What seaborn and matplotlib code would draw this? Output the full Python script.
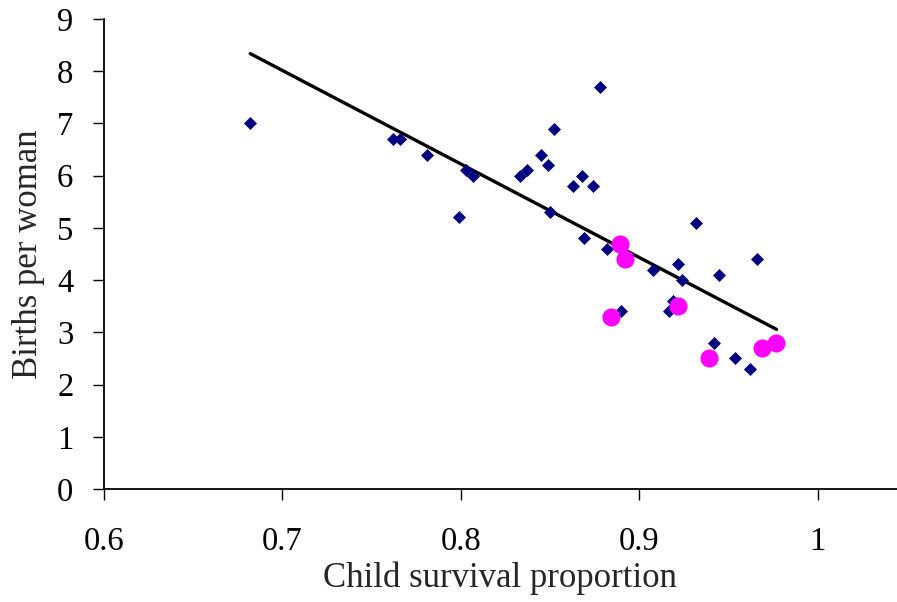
import numpy as np
import pandas as pd
import matplotlib
matplotlib.use("Agg")
import matplotlib.pyplot as plt
import seaborn as sns

# Countries (navy diamonds)
survival = [0.682, 0.762, 0.766, 0.781, 0.799, 0.803, 0.807, 0.833, 0.837, 0.845,
            0.849, 0.852, 0.850, 0.863, 0.868, 0.874, 0.878, 0.869, 0.882, 0.890,
            0.908, 0.922, 0.924, 0.932, 0.945, 0.966, 0.919, 0.917, 0.942, 0.954,
            0.962]
births = [7.0, 6.7, 6.7, 6.4, 5.2, 6.1, 6.0, 6.0, 6.1, 6.4,
          6.2, 6.9, 5.3, 5.8, 6.0, 5.8, 7.7, 4.8, 4.6, 3.4,
          4.2, 4.3, 4.0, 5.1, 4.1, 4.4, 3.6, 3.4, 2.8, 2.5,
          2.3]

# Highlighted countries (magenta circles)
hl_survival = [0.889, 0.892, 0.884, 0.922, 0.939, 0.969, 0.977]
hl_births = [4.7, 4.4, 3.3, 3.5, 2.5, 2.7, 2.8]

df = pd.DataFrame({"survival": survival, "births": births})
hl = pd.DataFrame({"survival": hl_survival, "births": hl_births})
both = pd.concat([df, hl], ignore_index=True)

sns.set_style("ticks")
plt.rcParams["font.family"] = ["Liberation Serif", "DejaVu Serif"]

fig = plt.figure(figsize=(8.97, 6.02), dpi=100)
ax = fig.add_axes([0.1159, 0.1877, 0.884, 0.7807])

sns.scatterplot(data=df, x="survival", y="births", marker="D", s=44,
                color="#000080", edgecolor="#000080", linewidth=0, ax=ax, zorder=3)
sns.scatterplot(data=hl, x="survival", y="births", marker="o", s=170,
                color="#FF00FF", edgecolor="#FF00FF", linewidth=0, ax=ax, zorder=4)
# linear trend over all points
sns.regplot(data=both, x="survival", y="births", scatter=False, ci=None,
            color="black", line_kws={"linewidth": 2.4, "zorder": 2}, ax=ax)

ax.set_xlim(0.6, 1.0445)
ax.set_ylim(0, 9)
ax.set_xticks([0.6, 0.7, 0.8, 0.9, 1.0])
ax.set_xticklabels(["0.6", "0.7", "0.8", "0.9", "1"])
ax.set_yticks(range(10))

for side in ["top", "right"]:
    ax.spines[side].set_visible(False)
for side in ["left", "bottom"]:
    ax.spines[side].set_linewidth(1.3)
    ax.spines[side].set_color("black")

ax.tick_params(axis="x", direction="out", length=8, width=1, pad=19,
               labelsize=23.5, colors="black")
ax.tick_params(axis="y", direction="out", length=8, width=1, pad=14,
               labelsize=23.5, colors="black")

ax.set_xlabel("Child survival proportion", fontsize=25, labelpad=3)
ax.set_ylabel("Births per woman", fontsize=25, labelpad=9)

fig.savefig("out.png", dpi=100)
